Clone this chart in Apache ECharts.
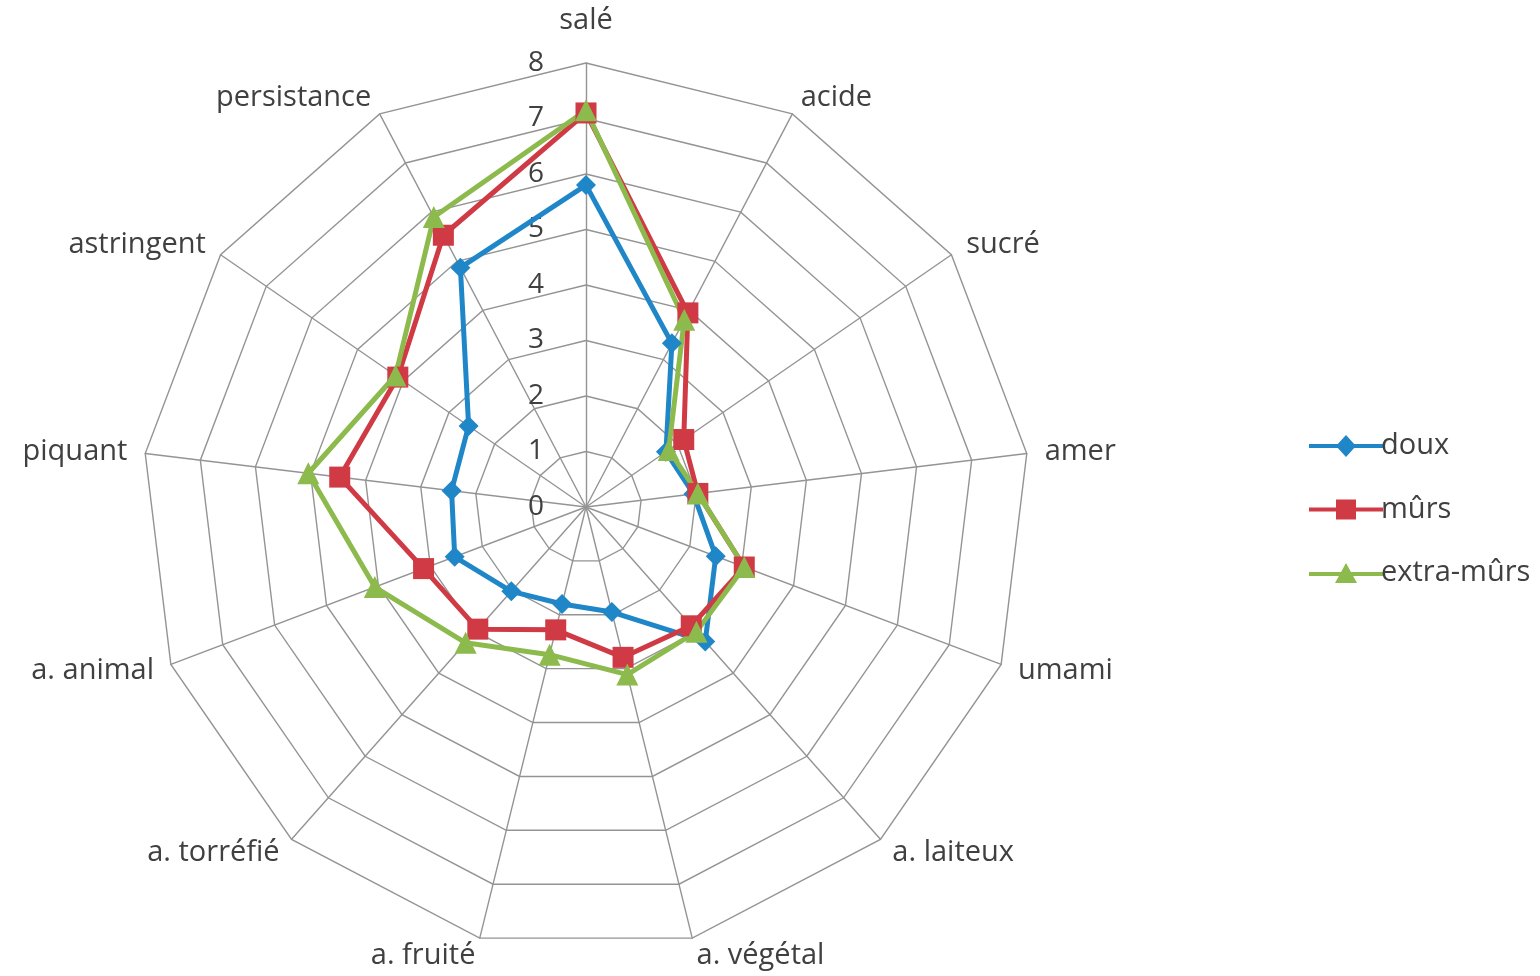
<!DOCTYPE html>
<html>
<head>
<meta charset="utf-8">
<script src="https://cdn.jsdelivr.net/npm/echarts@6/dist/echarts.min.js"></script>
<style>
  html, body { margin: 0; padding: 0; background: #fff; }
  #chart { width: 1540px; height: 976px; }
</style>
</head>
<body>
<div id="chart"></div>
<script>
// Sensory attributes, clockwise from the top
const attributes = ['salé', 'acide', 'sucré', 'amer', 'umami', 'a. laiteux', 'a. végétal',
  'a. fruité', 'a. torréfié', 'a. animal', 'piquant', 'astringent', 'persistance'];

const seriesNames = ['doux', 'mûrs', 'extra-mûrs'];

// Mean scores per attribute (same order as attributes)
const doux = [5.8, 3.33, 1.75, 1.95, 2.5, 3.24, 1.95, 1.8, 2.03, 2.53, 2.44, 2.57, 4.87];
const murs = [7.1, 3.95, 2.14, 2.03, 3.05, 2.86, 2.79, 2.28, 2.94, 3.13, 4.47, 4.12, 5.53];
const extraMurs = [7.15, 3.81, 1.81, 2.03, 3.05, 3.0, 3.11, 2.74, 3.27, 4.07, 5.04, 4.17, 5.9];

const scaleMax = 8;
const scaleSplits = 8;

const colors = ['#1f86c8', '#cf3a44', '#8cba4c'];
const symbols = ['diamond', 'rect', 'triangle'];
const symbolSizes = [20, 21, 22];

// Legend icons: a line with the series marker in its middle
const legendIcons = [
  'path://M0 9L74 9L74 13L0 13Z M37 0L47 11L37 22L27 11Z',
  'path://M0 9L74 9L74 13L0 13Z M27 1L47 1L47 21L27 21Z',
  'path://M0 9L74 9L74 13L0 13Z M37 0L48 20L26 20Z'
];

const textColor = '#404040';
const fontFamily = '"Open Sans", "DejaVu Sans", sans-serif';
const nameSize = 29;

// ECharts lays radar axes out counter-clockwise; keep the first axis at the
// top and walk the rest backwards so the attributes read clockwise.
const order = [0].concat(attributes.slice(1).map((_, i) => attributes.length - 1 - i));
const reorder = arr => order.map(k => arr[k]);

const indicator = reorder(attributes).map((name, i) => {
  const ind = { name: name, min: 0, max: scaleMax };
  if (i === 0) {
    ind.axisLabel = {
      show: true,
      color: textColor,
      fontSize: 28,
      fontFamily: fontFamily,
      margin: 42,
      showMinLabel: true,
      showMaxLabel: true
    };
  }
  return ind;
});

const datasets = [doux, murs, extraMurs];

const chart = echarts.init(document.getElementById('chart'), null, { renderer: 'canvas' });

chart.setOption({
  backgroundColor: '#ffffff',
  animation: false,
  legend: {
    orient: 'vertical',
    left: 1304,
    top: 426,
    itemWidth: 74,
    itemHeight: 22,
    itemGap: 33.5,
    textStyle: { color: textColor, fontSize: 29, lineHeight: 30, fontFamily: fontFamily, padding: [0, 0, 0, -7] },
    data: seriesNames.map((n, i) => ({ name: n, icon: legendIcons[i], itemStyle: { color: colors[i] } }))
  },
  radar: {
    center: [586, 507],
    radius: 444,
    shape: 'polygon',
    splitNumber: scaleSplits,
    startAngle: 90,
    nameGap: 18,
    axisName: {
      color: textColor,
      fontSize: nameSize,
      fontFamily: fontFamily,
      formatter: name => name === attributes[0] ? '{top|' + name + '}' : name,
      rich: {
        top: { color: textColor, fontSize: nameSize, fontFamily: fontFamily, padding: [0, 0, 10, 0] }
      }
    },
    axisLine: { show: true, lineStyle: { color: '#949494', width: 1.4 } },
    splitLine: { show: true, lineStyle: { color: '#949494', width: 1.4 } },
    splitArea: { show: false },
    axisTick: { show: false },
    axisLabel: { show: false },
    indicator: indicator
  },
  series: [{
    type: 'radar',
    data: datasets.map((vals, i) => ({
      name: seriesNames[i],
      value: reorder(vals),
      symbol: symbols[i],
      symbolSize: symbolSizes[i],
      lineStyle: { color: colors[i], width: 5 },
      itemStyle: { color: colors[i] }
    }))
  }]
});
</script>
</body>
</html>
